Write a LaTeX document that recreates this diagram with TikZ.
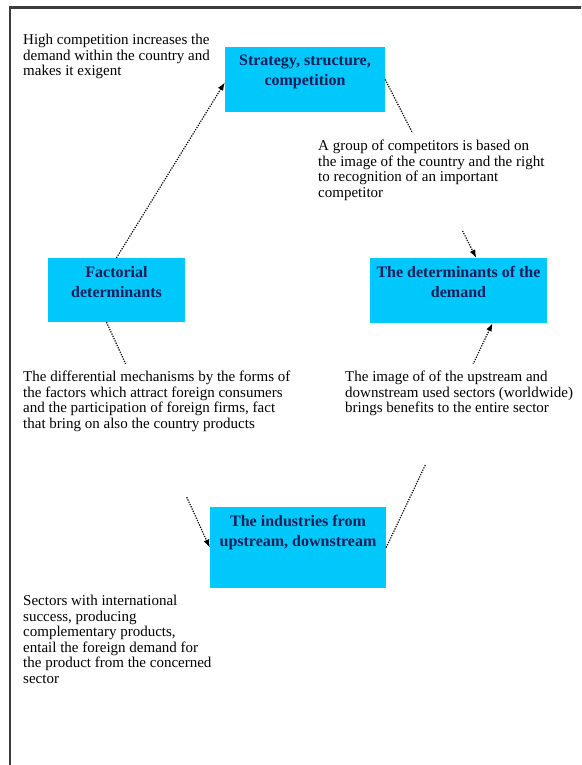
\documentclass[tikz,border=0pt]{standalone}
\usepackage{fontspec}
\setmainfont{Liberation Serif}
\usetikzlibrary{arrows.meta,calc}
\definecolor{boxfill}{RGB}{0,200,250}
\definecolor{boxtext}{RGB}{20,30,90}
\definecolor{framegray}{RGB}{60,60,60}

\begin{document}
\begin{tikzpicture}[x=1pt,y=-1pt,
  box/.style={rectangle, fill=boxfill, inner sep=0pt},
  boxlabel/.style={align=center, text=boxtext, inner sep=0pt,
    font=\fontsize{16}{20}\selectfont\bfseries},
  note/.style={align=left, fill=white, anchor=north west,
    inner xsep=3pt, inner ysep=7pt, font=\fontsize{15}{15.5}\selectfont},
  link/.style={line width=1.2pt, dash pattern=on 1.2pt off 1.3pt,
    -{Latex[length=8pt,width=6pt]}}]

\useasboundingbox (0,0) rectangle (581,765);
\clip (0,0) rectangle (581,765);

% page frame
\draw[framegray, line width=2.5pt] (10,800) |- (620,7.5);

% the four determinants
\node[box, minimum width=160pt, minimum height=65pt] (strat) at (305,79.5) {};
\node[box, minimum width=177pt, minimum height=65pt] (dem) at (458.5,290.5) {};
\node[box, minimum width=137pt, minimum height=64pt] (fact) at (116.5,290) {};
\node[box, minimum width=176pt, minimum height=81pt] (ind) at (298,547.5) {};

\node[boxlabel] at ([yshift=8pt]strat.center) {Strategy, structure,\\competition};
\node[boxlabel] at ([yshift=9pt]dem.center) {The determinants of the\\demand};
\node[boxlabel] at ([yshift=8pt]fact.center) {Factorial\\determinants};
\node[boxlabel] at ([yshift=15pt]ind.center) {The industries from\\upstream, downstream};

% links between the determinants
\draw[link] (fact.north) -- ([yshift=-3pt]strat.west);
\draw[link] (strat.east) -- ($(dem.north west)!0.6!(dem.north east)$);
\draw[link] (ind.east) -- ([xshift=34pt]dem.south);
\draw[link] ([xshift=-10pt]fact.south) -- (ind.west);

% comments on the links (white boxes over the connectors)
\node[note] (t1) at (20,27) {High competition increases the\\demand within the country and\\makes it exigent};
\node[note] (t2) at (315,133) {A group of competitors is based on\\the image of the country and the right\\to recognition of an important\\competitor\\[10pt]\mbox{}};
\node[note] (t3) at (20,364) {The differential mechanisms by the forms of\\the factors which attract foreign consumers\\and the participation of foreign firms, fact\\that bring on also the country products\\[46pt]\mbox{}};
\node[note] (t4) at (342,364) {The image of of the upstream and\\downstream used sectors (worldwide)\\brings benefits to the entire sector\\[29pt]\mbox{}};
\node[note] (t5) at (20,588) {Sectors with international\\success, producing\\complementary products,\\entail the foreign demand for\\the product from the concerned\\sector};
\end{tikzpicture}
\end{document}
